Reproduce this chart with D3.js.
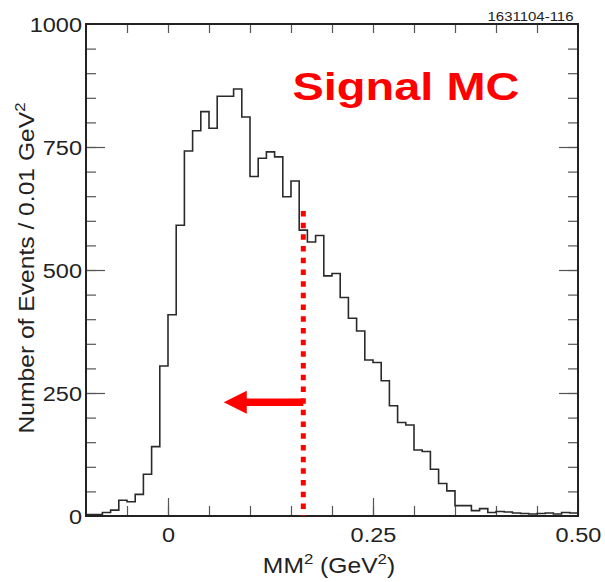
<!DOCTYPE html>
<html>
<head>
<meta charset="utf-8">
<script src="https://cdn.jsdelivr.net/npm/d3@7"></script>
<style>
  body { margin: 0; background: #fff; }
  svg { display: block; font-family: "Liberation Sans", Arial, Helvetica, sans-serif; }
</style>
</head>
<body>
<svg width="605" height="582"></svg>
<script>
// MM^2 histogram, 0.01 GeV^2 bins from -0.10 to 0.50
const binStart = -0.1;
const binWidth = 0.01;
const counts = [
  3, 3, 7, 12, 32, 29, 44, 85, 141, 305,
  409, 591, 742, 783, 822, 788, 853, 853, 868, 811,
  690, 727, 740, 730, 649, 681, 581, 557, 570, 488,
  493, 444, 402, 376, 317, 312, 275, 224, 190, 185,
  134, 131, 95, 66, 51, 21, 21, 11, 15, 7,
  9, 8, 6, 5, 4, 5, 6, 4, 7, 6
];

const xTickLabels = [0, 0.25, 0.5];
const yTickLabels = [0, 250, 500, 750, 1000];

// cut and arrow annotation (data units)
const cutValue = 0.165;
const cutTop = 620;
const arrowY = 231;
const arrowTip = 0.068;
const arrowHead = 0.096;

const svg = d3.select("svg");
const margin = { left: 86, right: 27, top: 24, bottom: 66 };
const width = +svg.attr("width");
const height = +svg.attr("height");

const x = d3.scaleLinear().domain([-0.1, 0.5]).range([margin.left, width - margin.right]);
const y = d3.scaleLinear().domain([0, 1000]).range([height - margin.bottom, margin.top]);

const minorX = d3.range(-0.05, 0.5, 0.05);
const minorY = d3.range(50, 1000, 50);

function noDomain(g) {
  g.select(".domain").remove();
  g.selectAll(".tick line").attr("stroke", "#555").attr("stroke-width", 1.2);
}

// bottom ticks
svg.append("g")
  .attr("transform", "translate(0," + y(0) + ")")
  .call(d3.axisBottom(x).tickValues(minorX).tickSizeInner(-10).tickFormat(""))
  .call(noDomain);
svg.append("g")
  .attr("transform", "translate(0," + y(0) + ")")
  .call(d3.axisBottom(x).tickValues(xTickLabels).tickSizeInner(-18).tickPadding(26)
    .tickFormat(function(d) { return d === 0 ? "0" : d3.format(".2f")(d); }))
  .call(noDomain)
  .call(function(g) {
    g.selectAll("text")
      .attr("font-size", 21)
      .attr("fill", "#222")
      .attr("font-family", "'Liberation Sans', Arial, sans-serif")
      .attr("dy", 0)
      .attr("y", 26)
      .attr("transform", "scale(1.12,1)")
      .each(function() {
        // keep anchor at tick position while stretching
        d3.select(this).attr("transform", "scale(1.12,1)").attr("x", 0);
      });
  });

// top ticks
svg.append("g")
  .attr("transform", "translate(0," + y(1000) + ")")
  .call(d3.axisTop(x).tickValues(minorX).tickSizeInner(-9).tickFormat(""))
  .call(noDomain);

// left ticks
svg.append("g")
  .attr("transform", "translate(" + x(-0.1) + ",0)")
  .call(d3.axisLeft(y).tickValues(minorY).tickSizeInner(-10).tickFormat(""))
  .call(noDomain);
svg.append("g")
  .attr("transform", "translate(" + x(-0.1) + ",0)")
  .call(d3.axisLeft(y).tickValues([250, 500, 750]).tickSizeInner(-19).tickFormat(""))
  .call(noDomain);

// right ticks
svg.append("g")
  .attr("transform", "translate(" + x(0.5) + ",0)")
  .call(d3.axisRight(y).tickValues(minorY).tickSizeInner(-10).tickFormat(""))
  .call(noDomain);
svg.append("g")
  .attr("transform", "translate(" + x(0.5) + ",0)")
  .call(d3.axisRight(y).tickValues([250, 500, 750]).tickSizeInner(-19).tickFormat(""))
  .call(noDomain);

// y tick labels
svg.append("g")
  .selectAll("text")
  .data(yTickLabels)
  .enter()
  .append("text")
  .attr("transform", function(d) { return "translate(" + (x(-0.1) - 4) + "," + (y(d) + 7.5) + ") scale(1.12,1)"; })
  .attr("text-anchor", "end")
  .attr("font-size", 21)
  .attr("fill", "#222")
  .text(function(d) { return d; });

// histogram
const pts = counts.map(function(c, i) { return [binStart + i * binWidth, c]; });
pts.push([binStart + counts.length * binWidth, counts[counts.length - 1]]);

svg.append("path")
  .datum(pts)
  .attr("fill", "none")
  .attr("stroke", "#2a2a2a")
  .attr("stroke-width", 1.6)
  .attr("d", d3.line()
    .x(function(d) { return x(d[0]); })
    .y(function(d) { return y(d[1]); })
    .curve(d3.curveStepAfter));

// frame
svg.append("rect")
  .attr("x", x(-0.1))
  .attr("y", y(1000))
  .attr("width", x(0.5) - x(-0.1))
  .attr("height", y(0) - y(1000))
  .attr("fill", "none")
  .attr("stroke", "#222")
  .attr("stroke-width", 2);

// cut line
svg.append("line")
  .attr("x1", x(cutValue))
  .attr("x2", x(cutValue))
  .attr("y1", y(cutTop))
  .attr("y2", y(0))
  .attr("stroke", "#ff0000")
  .attr("stroke-width", 5)
  .attr("stroke-dasharray", "5.5 6.2");

// arrow
svg.append("line")
  .attr("x1", x(cutValue))
  .attr("x2", x(arrowHead) - 1)
  .attr("y1", y(arrowY))
  .attr("y2", y(arrowY))
  .attr("stroke", "#ff0000")
  .attr("stroke-width", 7.5);
svg.append("path")
  .attr("fill", "#ff0000")
  .attr("d", "M" + x(arrowTip) + "," + y(arrowY) +
    "L" + x(arrowHead) + "," + (y(arrowY) - 11.5) +
    "L" + x(arrowHead) + "," + (y(arrowY) + 11.5) + "Z");

// title
svg.append("text")
  .attr("x", 292.5)
  .attr("y", 100)
  .attr("font-size", 38)
  .attr("font-weight", "bold")
  .attr("fill", "#ff0000")
  .attr("textLength", 227)
  .attr("lengthAdjust", "spacingAndGlyphs")
  .text("Signal MC");

// figure id
svg.append("text")
  .attr("x", 487.5)
  .attr("y", 20.5)
  .attr("font-size", 13.5)
  .attr("fill", "#222")
  .attr("textLength", 86)
  .attr("lengthAdjust", "spacingAndGlyphs")
  .text("1631104-116");

// x axis title
const xt = svg.append("text")
  .attr("transform", "translate(" + 329 + ",572.5) scale(1.12,1)")
  .attr("text-anchor", "middle")
  .attr("font-size", 22)
  .attr("fill", "#222");
xt.append("tspan").text("MM");
xt.append("tspan").attr("font-size", 15).attr("dy", -9).text("2");
xt.append("tspan").attr("dy", 9).text(" (GeV");
xt.append("tspan").attr("font-size", 15).attr("dy", -9).text("2");
xt.append("tspan").attr("dy", 9).text(")");

// y axis title
const yt = svg.append("text")
  .attr("transform", "translate(34,268) rotate(-90) scale(1.12,1)")
  .attr("text-anchor", "middle")
  .attr("font-size", 22)
  .attr("fill", "#222");
yt.append("tspan").text("Number of Events / 0.01 GeV");
yt.append("tspan").attr("font-size", 15).attr("dy", -9).text("2");
</script>
</body>
</html>
